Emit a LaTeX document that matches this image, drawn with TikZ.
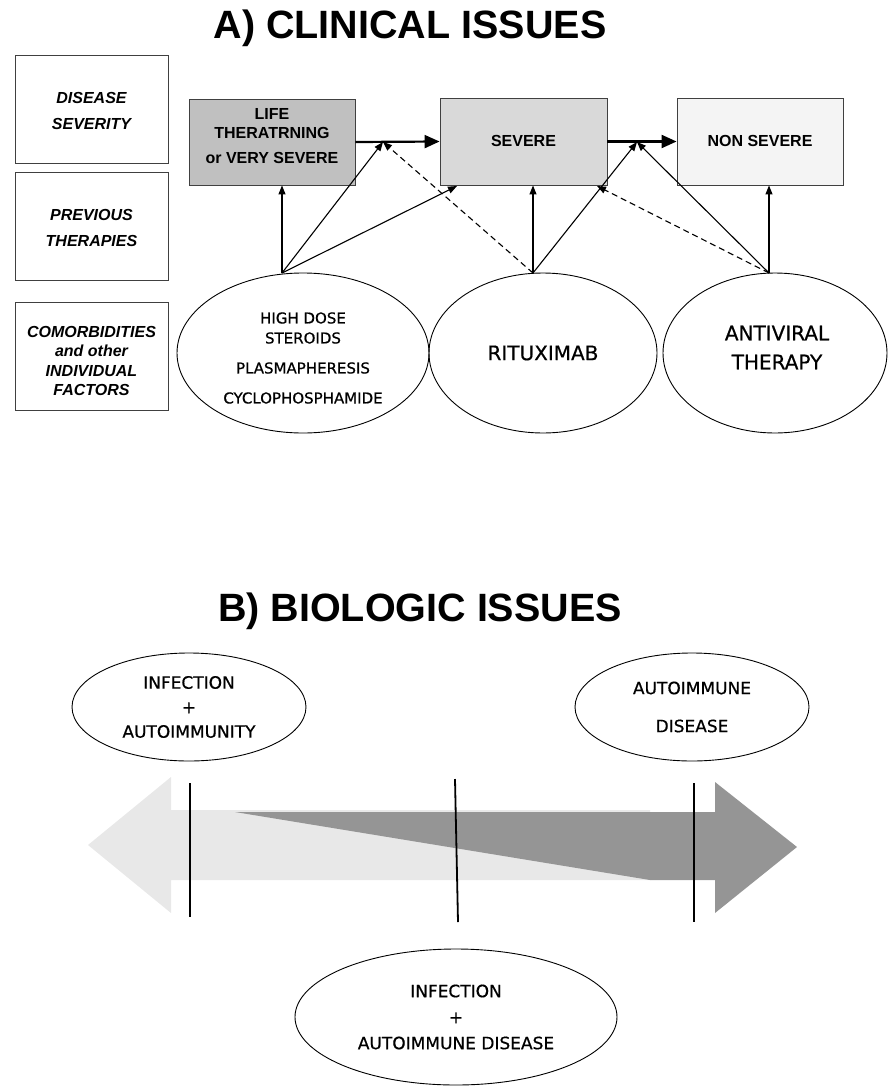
\documentclass[tikz,border=0pt]{standalone}
\usepackage{fontspec}
\setmainfont{Liberation Sans}
\newfontfamily\comic{DejaVu Sans}[FakeBold=0.6]
\usetikzlibrary{arrows.meta,shapes.geometric}
\definecolor{lifegray}{HTML}{C0C0C0}
\definecolor{sevgray}{HTML}{D9D9D9}
\definecolor{nongray}{HTML}{F4F4F4}
\definecolor{lightarrow}{HTML}{E8E8E8}
\definecolor{darkarrow}{HTML}{959595}
\begin{document}
\begin{tikzpicture}[x=1pt,y=-1pt,
  box/.style={draw=black!75, line width=0.9pt, rectangle, inner sep=0pt},
  oval/.style={draw=black, line width=0.9pt, ellipse, inner sep=0pt},
  ttl/.style={font=\fontsize{39.5}{42}\selectfont\bfseries, anchor=base},
  side/.style={font=\fontsize{16}{26}\selectfont\bfseries\itshape, align=center},
  btxt/.style={font=\fontsize{16}{22}\selectfont\bfseries, align=center},
  ctxt/.style={font=\comic\fontsize{15}{20}\selectfont, align=center},
  conn/.style={line width=1.1pt, -{Triangle[length=9pt,width=7pt]}},
  dconn/.style={conn, dash pattern=on 6pt off 4pt},
  bigarrow/.style={line width=2.2pt, -{Triangle[length=15pt,width=13pt]}},
  tick/.style={line width=1.8pt}
]
\useasboundingbox (0,0) rectangle (891,1090);

% ---------- titles ----------
\node[ttl] (ta) at (410,38) {A) CLINICAL ISSUES};
\node[ttl] (tb) at (420,621) {B) BIOLOGIC ISSUES};

% ---------- left column ----------
\node[box, minimum width=153, minimum height=108] (s1) at (91.5,109) {};
\node[side] (s1t) at (91.5,111) {DISEASE\\SEVERITY};
\node[box, minimum width=153, minimum height=108] (s2) at (91.5,226) {};
\node[side] (s2t) at (91.5,228) {PREVIOUS\\THERAPIES};
\node[box, minimum width=153, minimum height=108] (s3) at (91.5,356) {};
\node[side, font=\fontsize{16}{19.3}\selectfont\bfseries\itshape] (s3t) at (91.5,361)
  {COMORBIDITIES\\and other\\INDIVIDUAL\\FACTORS};

% ---------- severity boxes ----------
\node[box, fill=lifegray, minimum width=166, minimum height=86] (life) at (272,142) {};
\node[btxt] (lifet) at (272,136) {LIFE\\[-3pt]THERATRNING\\[3pt]or VERY SEVERE};
\node[box, fill=sevgray, minimum width=167, minimum height=87] (sev) at (523.5,141.5) {};
\node[btxt] (sevt) at (523.5,141) {SEVERE};
\node[box, fill=nongray, minimum width=166, minimum height=87] (non) at (760,141.5) {};
\node[btxt] (nont) at (760,141) {NON SEVERE};

\draw[bigarrow] (life.east) -- (sev.west);
\draw[bigarrow] (sev.east) -- (non.west);
\coordinate (m1) at (383,142);
\coordinate (m2) at (637,142);

% ---------- therapies ----------
\node[oval, minimum width=252, minimum height=160] (e1) at (303,353) {};
\node[ctxt] (e1t) at (303,358) {HIGH DOSE\\STEROIDS\\[10pt]PLASMAPHERESIS\\[10pt]CYCLOPHOSPHAMIDE};
\node[oval, minimum width=228, minimum height=160,
      font=\comic\fontsize{20}{29}\selectfont] (e2) at (543,353) {RITUXIMAB};
\node[oval, minimum width=224, minimum height=160] (e3) at (775,353) {};
\node[ctxt, font=\comic\fontsize{20}{29}\selectfont] (e3t) at (777,347.5) {ANTIVIRAL\\THERAPY};

\coordinate (o1) at (282,273);
\coordinate (o2) at (533,273);
\coordinate (o3) at (769,273);
\coordinate (t1) at (457,186);
\coordinate (t2) at (597,186);

\draw[conn] (o1) -- (o1 |- life.south);
\draw[conn] (o1) -- (m1);
\draw[conn] (o1) -- (t1);
\draw[conn] (o2) -- (o2 |- sev.south);
\draw[conn] (o2) -- (m2);
\draw[dconn] (o2) -- (m1);
\draw[conn] (o3) -- (o3 |- non.south);
\draw[conn] (o3) -- (m2);
\draw[dconn] (o3) -- (t2);

% ---------- biologic spectrum ----------
\fill[lightarrow] (88,845) -- (171,777) -- (171,810) -- (650,810) -- (650,880)
  -- (171,880) -- (171,913) -- cycle;
\fill[darkarrow] (235,812) -- (715,812) -- (715,782) -- (797,847) -- (715,913)
  -- (715,880) -- (650,880) -- cycle;

\coordinate (v1a) at (190,783); \coordinate (v1b) at (190,917);
\coordinate (v2a) at (455,779); \coordinate (v2b) at (458,922);
\coordinate (v3a) at (694,783); \coordinate (v3b) at (694,922);
\draw[tick] (v1a) -- (v1b);
\draw[tick] (v2a) -- (v2b);
\draw[tick] (v3a) -- (v3b);

\node[oval, minimum width=234, minimum height=108,
      font=\comic\fontsize{17}{24.5}\selectfont, align=center] (b1) at (189,707)
  {INFECTION\\+\\AUTOIMMUNITY};
\node[oval, minimum width=234, minimum height=108,
      font=\comic\fontsize{17}{38}\selectfont, align=center] (b2) at (692,707)
  {AUTOIMMUNE\\DISEASE};
\node[oval, minimum width=322, minimum height=136,
      font=\comic\fontsize{17}{26}\selectfont, align=center] (b3) at (456,1017)
  {INFECTION\\+\\AUTOIMMUNE DISEASE};
\end{tikzpicture}
\end{document}
